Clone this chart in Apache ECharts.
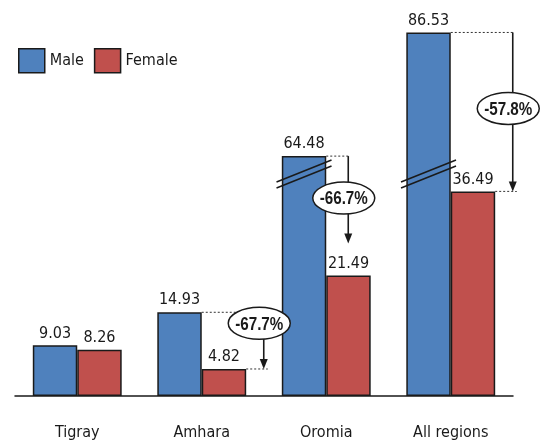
<!DOCTYPE html>
<html>
<head>
<meta charset="utf-8">
<script src="https://cdn.jsdelivr.net/npm/echarts@6/dist/echarts.min.js"></script>
<style>
  html, body { margin: 0; padding: 0; background: #ffffff; }
  #chart { width: 541px; height: 447px; }
</style>
</head>
<body>
<div id="chart"></div>
<script>
// data
const categories = ['Tigray', 'Amhara', 'Oromia', 'All regions'];
const male = [9.03, 14.93, 64.48, 86.53];
const female = [8.26, 4.82, 21.49, 36.49];
const changeLabels = ['', '-67.7%', '-66.7%', '-57.8%'];
const brokenBars = [2, 3];      // male bars drawn across the axis break
const breakStart = 39.6;
const breakEnd = 61.3;

const FONT = '"DejaVu Sans Condensed", "Liberation Sans Narrow", "Noto Sans", sans-serif';
const NOTE_FONT = '"Liberation Sans", Arial, sans-serif';
const INK = '#1a1a1a';
const BAR_RATIO = 0.357;

// layout of the change annotations (pixels)
const noteLayout = {
    1: { arrowDx: 62, labelDy: 11, stopAboveLabel: false, lowerDots: true },
    2: { arrowDx: 22, labelDy: 42, stopAboveLabel: true, lowerDots: false },
    3: { arrowDx: 62, labelDy: 76, stopAboveLabel: false, lowerDots: true }
};

const dotted = { stroke: '#333', lineWidth: 1, lineDash: [2, 2] };

function renderNote(params, api) {
    const i = api.value(0);
    const lay = noteLayout[i];
    const pm = api.coord([i, male[i]]);
    const pf = api.coord([i, female[i]]);
    const bw = api.size([1, 0])[0] * BAR_RATIO;
    const cx = pm[0];
    const ax = cx + lay.arrowDx;
    const yM = pm[1];
    const yF = pf[1];
    const yEnd = lay.stopAboveLabel ? yF - 32 : yF;
    const ex = ax - 4.5;
    const ey = yM + lay.labelDy;
    const children = [
        { type: 'line', shape: { x1: cx, y1: yM, x2: ax, y2: yM }, style: dotted },
        { type: 'line', shape: { x1: ax, y1: yM, x2: ax, y2: yEnd - 8 }, style: { stroke: INK, lineWidth: 1.6 } },
        { type: 'polygon', shape: { points: [[ax - 4, yEnd - 10], [ax + 4, yEnd - 10], [ax, yEnd]] }, style: { fill: INK } },
        { type: 'ellipse', shape: { cx: ex, cy: ey, rx: 31, ry: 16 }, style: { fill: '#ffffff', stroke: INK, lineWidth: 1.5 } },
        {
            // narrow bold text: squeeze a regular face horizontally
            type: 'text',
            x: ex,
            y: ey + 1,
            scaleX: 0.8,
            style: {
                text: changeLabels[i], x: 0, y: 0,
                align: 'center', verticalAlign: 'middle',
                font: 'bold 19px ' + NOTE_FONT, fill: INK
            }
        }
    ];
    if (lay.lowerDots) {
        children.unshift({ type: 'line', shape: { x1: cx + bw, y1: yF, x2: ax + 4, y2: yF }, style: dotted });
    }
    return { type: 'group', children: children };
}

function renderSlash(params, api) {
    const i = api.value(0);
    const p = api.coord([i, breakStart]);
    const bw = api.size([1, 0])[0] * BAR_RATIO;
    const bx = p[0] - bw / 2;
    const y = p[1];
    const hw = 27.5, rise = 11, sep = 3;
    const st = { stroke: INK, lineWidth: 1.5 };
    return {
        type: 'group',
        children: [
            { type: 'line', shape: { x1: bx - hw, y1: y - sep + rise, x2: bx + hw, y2: y - sep - rise }, style: st },
            { type: 'line', shape: { x1: bx - hw, y1: y + sep + rise, x2: bx + hw, y2: y + sep - rise }, style: st }
        ]
    };
}

const chart = echarts.init(document.getElementById('chart'));
const barLabel = {
    show: true,
    position: 'top',
    distance: 4,
    fontSize: 16,
    fontFamily: FONT,
    color: INK
};

chart.setOption({
    animation: false,
    textStyle: { fontFamily: FONT },
    legend: {
        data: ['Male', 'Female'],
        left: 18,
        top: 48,
        padding: 0,
        itemWidth: 26,
        itemHeight: 24,
        itemGap: 10,
        icon: 'rect',
        itemStyle: { borderColor: INK, borderWidth: 1.5 },
        textStyle: { fontSize: 16, fontFamily: FONT, color: INK }
    },
    grid: { left: 15, right: 28, top: 13, bottom: 51, outerBoundsMode: 'none' },
    xAxis: {
        type: 'category',
        data: categories,
        axisLine: { lineStyle: { color: INK, width: 1.5 } },
        axisTick: { show: false },
        axisLabel: { margin: 29, fontSize: 16, fontFamily: FONT, color: INK }
    },
    yAxis: {
        type: 'value',
        show: false,
        min: 0,
        max: 90,
        splitLine: { show: false },
        breaks: [{ start: breakStart, end: breakEnd, gap: 0 }],
        breakArea: { show: false }
    },
    series: [
        {
            name: 'Male',
            type: 'bar',
            data: male,
            barWidth: (BAR_RATIO * 100) + '%',
            barGap: '0%',
            itemStyle: { color: '#4F81BD', borderColor: INK, borderWidth: 1.5 },
            label: barLabel
        },
        {
            name: 'Female',
            type: 'bar',
            data: female,
            barWidth: (BAR_RATIO * 100) + '%',
            barGap: '0%',
            itemStyle: { color: '#C0504D', borderColor: INK, borderWidth: 1.5 },
            label: barLabel
        },
        {
            type: 'custom',
            renderItem: renderSlash,
            data: brokenBars.map(i => [i, breakStart]),
            encode: { x: 0, y: 1 },
            z: 5,
            silent: true
        },
        {
            type: 'custom',
            renderItem: renderNote,
            data: [1, 2, 3].map(i => [i, male[i]]),
            encode: { x: 0, y: 1 },
            z: 6,
            silent: true
        }
    ]
});
</script>
</body>
</html>
